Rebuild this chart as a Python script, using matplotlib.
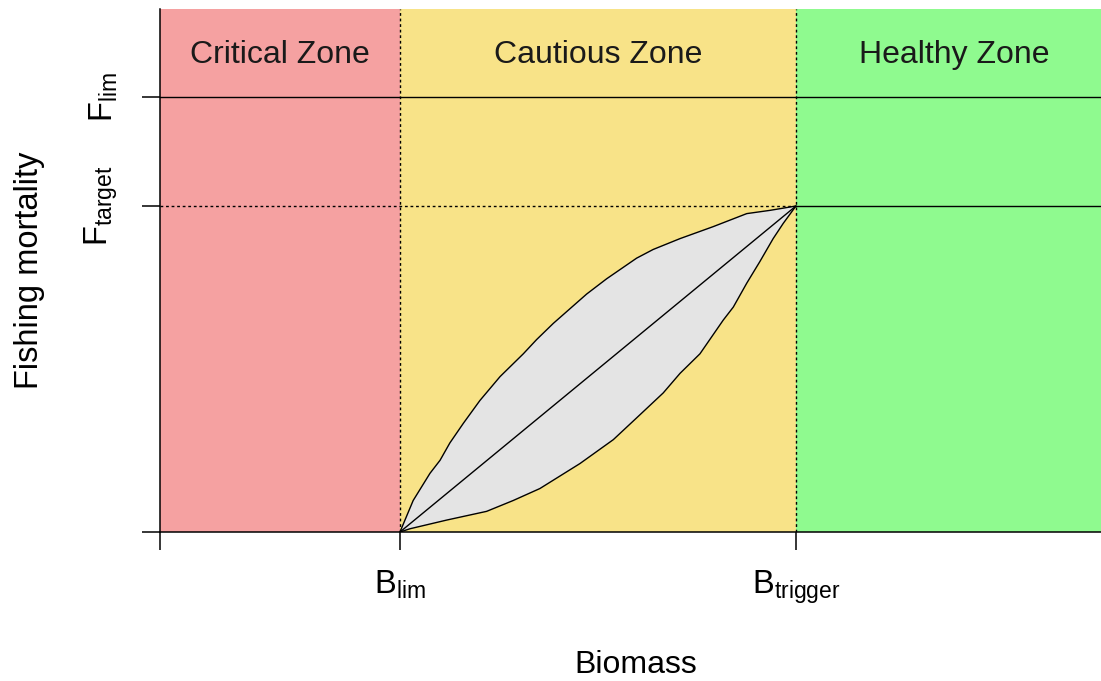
import numpy as np
import matplotlib.pyplot as plt
from matplotlib.patches import Rectangle

plt.rcParams['font.family'] = ['Liberation Sans', 'DejaVu Sans']
plt.rcParams['mathtext.fontset'] = 'custom'
plt.rcParams['mathtext.rm'] = 'Liberation Sans'
plt.rcParams['mathtext.it'] = 'Liberation Sans:italic'

# reference points (arbitrary units)
b_lim = 1.0
b_trigger = 2.65
f_target = 0.30
f_lim = 0.40
x_max = 3.967
y_max = 0.4813

zones = ['Critical Zone', 'Cautious Zone', 'Healthy Zone']
zone_colors = ['#F5A1A1', '#F8E388', '#8FFA8F']
zone_edges = [0.0, b_lim, b_trigger, x_max]

# envelope around the harvest control rule
upper_x = [1.0, 1.055, 1.125, 1.167, 1.208, 1.264, 1.333, 1.417,
           1.514, 1.569, 1.639, 1.778, 1.861, 1.986, 2.055, 2.167, 2.305, 2.445,
           2.542, 2.65]
upper_y = [0.0, 0.029, 0.054, 0.066, 0.082, 0.100, 0.121, 0.143,
           0.164, 0.177, 0.192, 0.219, 0.233, 0.252, 0.260, 0.270, 0.281, 0.293,
           0.296, 0.30]
lower_x = [1.0, 1.042, 1.195, 1.361, 1.472, 1.583, 1.75, 1.889, 1.986, 2.097,
           2.167, 2.25, 2.347, 2.389, 2.445, 2.5, 2.555, 2.597, 2.65]
lower_y = [0.0, 0.003, 0.011, 0.019, 0.029, 0.040, 0.063, 0.085, 0.105, 0.128,
           0.146, 0.164, 0.195, 0.207, 0.229, 0.249, 0.270, 0.284, 0.30]

W, H = 1101, 681
fig = plt.figure(figsize=(W / 100, H / 100), dpi=100)
ax = fig.add_axes([160 / W, (H - 532) / H, (1112 - 160) / W, (532 - 9) / H])
ax.set_xlim(0, x_max)
ax.set_ylim(0, y_max)

for i, name in enumerate(zones):
    ax.add_patch(Rectangle((zone_edges[i], 0), zone_edges[i + 1] - zone_edges[i], y_max,
                           facecolor=zone_colors[i], edgecolor='none', zorder=0))
    ax.text((zone_edges[i] + zone_edges[i + 1]) / 2, 0.439, name, ha='center', va='center',
            fontsize=23, color='#1a1a1a')

# envelope
poly_x = upper_x + lower_x[::-1]
poly_y = upper_y + lower_y[::-1]
ax.fill(poly_x, poly_y, facecolor='#E4E4E4', edgecolor='black', lw=1.0, zorder=2)
ax.plot([b_lim, b_trigger], [0, f_target], color='black', lw=1.0, zorder=3)

dot = (0, (2, 2))
ax.plot([0, b_trigger], [f_target, f_target], color='black', lw=1.0, ls=dot, zorder=3)
ax.plot([b_trigger, x_max], [f_target, f_target], color='black', lw=1.0, zorder=3)
ax.plot([0, x_max], [f_lim, f_lim], color='black', lw=1.0, zorder=3)
for xv in [b_lim, b_trigger]:
    ax.plot([xv, xv], [0, y_max], color='black', lw=1.0, ls=dot, zorder=3)

for s in ['top', 'right']:
    ax.spines[s].set_visible(False)
for s in ['left', 'bottom']:
    ax.spines[s].set_linewidth(1.1)

ax.set_xticks([0, b_lim, b_trigger])
ax.set_xticklabels(['', r'$\mathrm{B_{lim}}$', r'$\mathrm{B_{trigger}}$'], fontsize=23.5)
ax.set_yticks([0, f_target, f_lim])
ax.set_yticklabels(['', r'$\mathrm{F_{target}}$', r'$\mathrm{F_{lim}}$'], fontsize=23.5,
                   rotation=90, va='center')
ax.tick_params(axis='x', length=13, width=1.1, pad=13, colors='black')
ax.tick_params(axis='y', length=13, width=1.1, pad=16, colors='black')

fig.text(636 / W, 1 - 665 / H, 'Biomass', ha='center', va='center', fontsize=23)
fig.text(30 / W, 1 - 270 / H, 'Fishing mortality', ha='center', va='center',
         fontsize=23.5, rotation=90)

fig.savefig('out.png', dpi=100)
